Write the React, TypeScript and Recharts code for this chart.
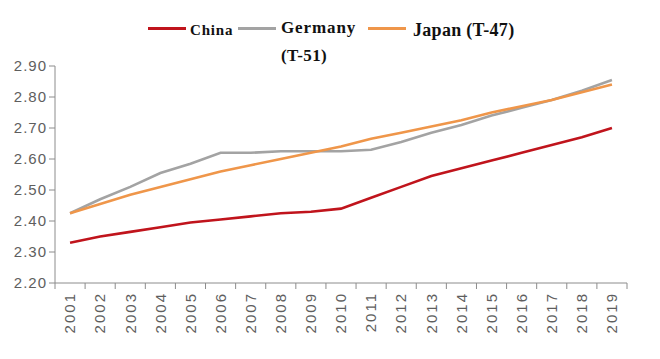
import React from "react";
import { LineChart, Line, XAxis, YAxis } from "recharts";

// values (index, 2001–2019)
const years = [
  "2001", "2002", "2003", "2004", "2005", "2006", "2007", "2008", "2009", "2010",
  "2011", "2012", "2013", "2014", "2015", "2016", "2017", "2018", "2019",
];
const china = [
  2.33, 2.35, 2.365, 2.38, 2.395, 2.405, 2.415, 2.425, 2.43, 2.44,
  2.475, 2.51, 2.545, 2.57, 2.595, 2.62, 2.645, 2.67, 2.7,
];
const germany = [
  2.425, 2.47, 2.51, 2.555, 2.585, 2.62, 2.62, 2.625, 2.625, 2.625,
  2.63, 2.655, 2.685, 2.71, 2.74, 2.765, 2.79, 2.82, 2.855,
];
const japan = [
  2.425, 2.455, 2.485, 2.51, 2.535, 2.56, 2.58, 2.6, 2.62, 2.64,
  2.665, 2.685, 2.705, 2.725, 2.75, 2.77, 2.79, 2.815, 2.84,
];
const yTicks = [2.2, 2.3, 2.4, 2.5, 2.6, 2.7, 2.8, 2.9];

const RED = "#c0141c";
const GREY = "#a3a3a3";
const ORANGE = "#ef964a";
const AXIS = "#8c8c8c";
const TICK_TXT = "#5e5e5e";

const W = 660;
const H = 359;
const Y_W = 55;
const RIGHT = 33;
const STEP = (W - Y_W - RIGHT) / years.length;

const data = years.map((y, i) => ({ year: y, china: china[i], germany: germany[i], japan: japan[i] }));

function XTick(props: any) {
  const { x, y, payload, index } = props;
  const half = STEP / 2;
  return (
    <g>
      <line x1={x - half} y1={y} x2={x - half} y2={y + 6} stroke={AXIS} />
      {index === years.length - 1 && <line x1={x + half} y1={y} x2={x + half} y2={y + 6} stroke={AXIS} />}
      <text
        transform={`translate(${x},${y + 9}) rotate(-90)`}
        textAnchor="end"
        dy="0.35em"
        fill={TICK_TXT}
        fontSize={15}
        letterSpacing={2}
        fontFamily="'Liberation Sans', Arial, sans-serif"
      >
        {payload.value}
      </text>
    </g>
  );
}

const legendFont: React.CSSProperties = {
  position: "absolute",
  fontFamily: "'Liberation Serif', 'Times New Roman', serif",
  fontWeight: 700,
  color: "#111",
  whiteSpace: "nowrap",
  lineHeight: 1,
};

function Swatch({ left, color }: { left: number; color: string }) {
  return <div style={{ position: "absolute", left, top: 27, width: 38, height: 3, background: color }} />;
}

export default function App() {
  return (
    <div style={{ position: "absolute", left: 0, top: 0, width: W, height: H, background: "#fff" }}>
      <LineChart width={W} height={H} data={data} margin={{ top: 66, right: RIGHT, bottom: 0, left: 0 }}>
        <XAxis
          dataKey="year"
          height={76}
          padding={{ left: STEP / 2, right: STEP / 2 }}
          axisLine={{ stroke: AXIS }}
          tickLine={false}
          tickSize={0}
          tickMargin={0}
          interval={0}
          tick={<XTick />}
        />
        <YAxis
          width={Y_W}
          domain={[2.2, 2.9]}
          ticks={yTicks}
          tickFormatter={(v) => Number(v).toFixed(2)}
          axisLine={{ stroke: AXIS }}
          tickLine={{ stroke: AXIS }}
          tickSize={6}
          tickMargin={2}
          tick={{ fill: TICK_TXT, fontSize: 15, letterSpacing: 1, fontFamily: "'Liberation Sans', Arial, sans-serif" }}
        />
        <Line dataKey="china" stroke={RED} strokeWidth={2.6} dot={false} isAnimationActive={false} />
        <Line dataKey="germany" stroke={GREY} strokeWidth={2.6} dot={false} isAnimationActive={false} />
        <Line dataKey="japan" stroke={ORANGE} strokeWidth={2.6} dot={false} isAnimationActive={false} />
      </LineChart>

      <Swatch left={148} color={RED} />
      <div style={{ ...legendFont, left: 190, top: 23, fontSize: 15, letterSpacing: 0.8 }}>China</div>
      <Swatch left={238} color={GREY} />
      <div style={{ ...legendFont, left: 281, top: 19, fontSize: 17, letterSpacing: 0.9 }}>Germany</div>
      <div style={{ ...legendFont, left: 281, top: 47, fontSize: 17, letterSpacing: 0.4 }}>(T-51)</div>
      <Swatch left={368} color={ORANGE} />
      <div style={{ ...legendFont, left: 413, top: 21, fontSize: 18, letterSpacing: 0.3 }}>Japan (T-47)</div>
    </div>
  );
}
